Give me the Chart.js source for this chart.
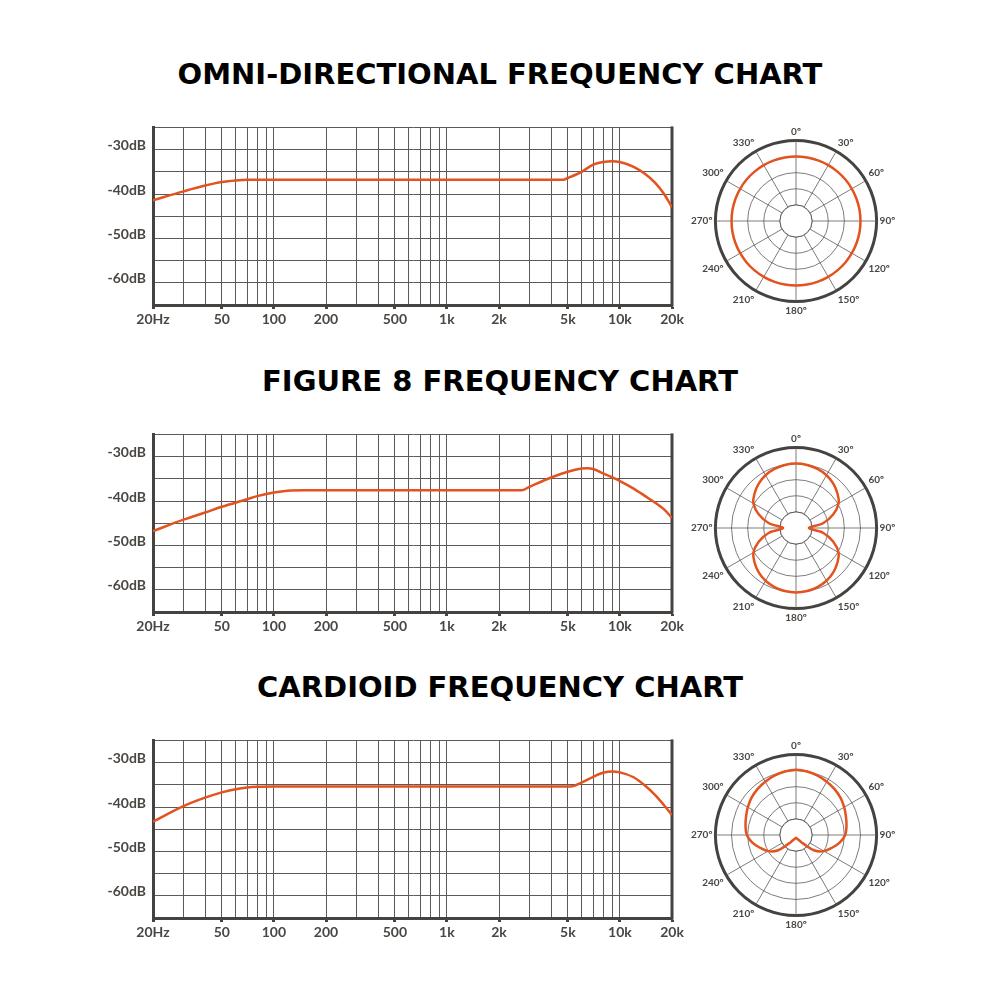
<!DOCTYPE html>
<html>
<head>
<meta charset="utf-8">
<script src="https://cdn.jsdelivr.net/npm/chart.js@4.4.1/dist/chart.umd.min.js"></script>
<style>
  html, body { margin: 0; padding: 0; background: #fff; }
  #page { position: relative; width: 1000px; height: 1000px; overflow: hidden; }
  .title {
    position: absolute; left: 0; width: 1000px; text-align: center;
    font: bold 29px 'DejaVu Sans', sans-serif; line-height: 32px; color: #000;
  }
  .box { position: absolute; }
</style>
</head>
<body>
<div id="page">
  <div class="title" style="top:58px">OMNI-DIRECTIONAL FREQUENCY CHART</div>
  <div class="box" style="left:90px; top:112px; width:610px; height:230px"><canvas id="resp-omni"></canvas></div>
  <div class="box" style="left:689px; top:116px; width:210px; height:210px"><canvas id="polar-omni"></canvas></div>

  <div class="title" style="top:365px">FIGURE 8 FREQUENCY CHART</div>
  <div class="box" style="left:90px; top:419px; width:610px; height:230px"><canvas id="resp-fig8"></canvas></div>
  <div class="box" style="left:689px; top:423px; width:210px; height:210px"><canvas id="polar-fig8"></canvas></div>

  <div class="title" style="top:671px">CARDIOID FREQUENCY CHART</div>
  <div class="box" style="left:90px; top:725px; width:610px; height:230px"><canvas id="resp-card"></canvas></div>
  <div class="box" style="left:689px; top:730px; width:210px; height:210px"><canvas id="polar-card"></canvas></div>
</div>

<script>
// frequency axis
const gridFreqs = [20, 30, 40, 50, 60, 70, 80, 90, 100, 200, 300, 400, 500, 600, 700, 800, 900,
  1000, 2000, 3000, 4000, 5000, 6000, 7000, 8000, 9000, 10000, 20000];
const labelFreqs = [20, 50, 100, 200, 500, 1000, 2000, 5000, 10000, 20000];
const freqTickLabels = ['20Hz', '50', '100', '200', '500', '1k', '2k', '5k', '10k', '20k'];

// level axis
const dbTicks = [-30, -40, -50, -60];
const dbTickLabels = ['-30dB', '-40dB', '-50dB', '-60dB'];

// responses
const omniFreqs = [20, 30, 40, 50, 60, 70, 100, 1000, 4700, 5000, 6000, 7000, 8000, 9000, 10000, 12000, 14000, 16000, 18000, 20000];
const omniDb = [-41.4, -39.4, -38.1, -37.3, -36.95, -36.8, -36.8, -36.8, -36.8, -36.4, -35.0, -33.4, -32.8, -32.6, -32.8, -33.9, -35.5, -37.5, -40.0, -43.0];

const fig8Freqs = [20, 30, 40, 50, 70, 80, 100, 120, 150, 1000, 2700, 3000, 4000, 5000, 6000, 6500, 7000, 8000, 10000, 12000, 14000, 16000, 18000, 20000];
const fig8Db = [-46.8, -44.2, -42.6, -41.3, -39.6, -38.9, -38.1, -37.7, -37.6, -37.6, -37.6, -36.8, -34.7, -33.4, -32.7, -32.6, -32.8, -33.8, -35.5, -37.2, -38.9, -40.4, -41.9, -43.8];

const cardFreqs = [20, 30, 40, 50, 60, 70, 80, 100, 1000, 5200, 6000, 7000, 8000, 9000, 10000, 12000, 14000, 16000, 18000, 20000];
const cardDb = [-43.3, -39.8, -37.9, -36.7, -36.0, -35.6, -35.45, -35.4, -35.4, -35.4, -34.5, -33.2, -32.3, -32.0, -32.2, -33.3, -35.2, -37.3, -39.6, -41.8];

// polar patterns, 10 degree steps, rings 0..5
const polarAngles = [0, 10, 20, 30, 40, 50, 60, 70, 80, 90, 100, 110, 120, 130, 140, 150, 160, 170,
  180, 190, 200, 210, 220, 230, 240, 250, 260, 270, 280, 290, 300, 310, 320, 330, 340, 350];
const compassLabels = ['0º', '30º', '60º', '90º', '120º', '150º', '180º', '210º', '240º', '270º', '300º', '330º'];

const omniPolar = [4, 4, 4, 4, 4, 4, 4, 4, 4, 4, 4, 4, 4, 4, 4, 4, 4, 4,
  4, 4, 4, 4, 4, 4, 4, 4, 4, 4, 4, 4, 4, 4, 4, 4, 4, 4];
const fig8Polar = [4.0, 3.97, 3.9, 3.78, 3.6, 3.35, 3.05, 2.45, 1.7, 0.8, 1.7, 2.45, 3.05, 3.35, 3.6, 3.78, 3.9, 3.97,
  4.0, 3.97, 3.9, 3.78, 3.6, 3.35, 3.05, 2.45, 1.7, 0.8, 1.7, 2.45, 3.05, 3.35, 3.6, 3.78, 3.9, 3.97];
const cardPolar = [4.05, 4.0, 3.92, 3.82, 3.72, 3.6, 3.45, 3.3, 3.18, 3.05, 2.75, 2.35, 2.0, 1.5, 0.7, 0.38, 0.26, 0.2,
  0.17, 0.2, 0.26, 0.38, 0.7, 1.5, 2.0, 2.35, 2.75, 3.05, 3.18, 3.3, 3.45, 3.6, 3.72, 3.82, 3.92, 4.0];

const curveColor = '#e2531f';
const gridColor = '#5c5a58';
const frameColor = '#46423f';
const textColor = '#4a4643';

Chart.defaults.font.family = 'Lato';
Chart.defaults.color = textColor;

// right-hand frame line of the response plots
const framePlugin = {
  id: 'frame',
  beforeDatasetsDraw(chart) {
    const a = chart.chartArea;
    const ctx = chart.ctx;
    ctx.save();
    ctx.strokeStyle = frameColor;
    ctx.lineWidth = 3;
    ctx.beginPath();
    ctx.moveTo(a.right, a.top - 1);
    ctx.lineTo(a.right, a.bottom + 1.5);
    ctx.stroke();
    ctx.restore();
  }
};

// empty hub in the middle of the polar plots
const hubPlugin = {
  id: 'hub',
  beforeDatasetsDraw(chart) {
    const s = chart.scales.r;
    const ctx = chart.ctx;
    ctx.save();
    ctx.beginPath();
    ctx.arc(s.xCenter, s.yCenter, s.getDistanceFromCenterForValue(1), 0, Math.PI * 2);
    ctx.fillStyle = '#fff';
    ctx.fill();
    ctx.lineWidth = 1;
    ctx.strokeStyle = gridColor;
    ctx.stroke();
    ctx.restore();
  }
};

function makeResponseChart(id, freqs, dbs) {
  const ctx = document.getElementById(id).getContext('2d');
  return new Chart(ctx, {
    type: 'line',
    data: {
      datasets: [{
        data: freqs.map((f, i) => ({ x: f, y: dbs[i] })),
        borderColor: curveColor,
        borderWidth: 2.5,
        pointRadius: 0,
        fill: false,
        cubicInterpolationMode: 'monotone'
      }]
    },
    options: {
      responsive: true,
      maintainAspectRatio: false,
      animation: false,
      layout: { padding: { top: 15, right: 28, bottom: 0, left: 0 } },
      plugins: { legend: { display: false }, tooltip: { enabled: false } },
      scales: {
        x: {
          type: 'logarithmic',
          min: 20,
          max: 20000,
          afterBuildTicks: scale => { scale.ticks = gridFreqs.map(v => ({ value: v })); },
          afterFit: scale => { scale.height = 37; },
          ticks: {
            autoSkip: false,
            maxRotation: 0,
            padding: 2,
            font: { size: 14, weight: 'bold' },
            callback: v => {
              const i = labelFreqs.indexOf(v);
              return i >= 0 ? freqTickLabels[i] : '';
            }
          },
          grid: {
            color: gridColor,
            lineWidth: 1,
            tickLength: 4,
            tickWidth: 3,
            tickColor: c => labelFreqs.includes(c.tick.value) ? frameColor : 'transparent'
          },
          border: { display: true, width: 3, color: frameColor }
        },
        y: {
          min: -65,
          max: -25,
          afterFit: scale => { scale.width = 63; },
          ticks: {
            stepSize: 5,
            padding: 7,
            labelOffset: -4,
            font: { size: 14, weight: 'bold' },
            callback: v => {
              const i = dbTicks.indexOf(v);
              return i >= 0 ? dbTickLabels[i] : '';
            }
          },
          grid: { color: gridColor, lineWidth: 1, drawTicks: false },
          border: { display: true, width: 3, color: frameColor }
        }
      }
    },
    plugins: [framePlugin]
  });
}

function makePolarChart(id, values) {
  const ctx = document.getElementById(id).getContext('2d');
  return new Chart(ctx, {
    type: 'radar',
    data: {
      labels: polarAngles.map(a => a % 30 === 0 ? compassLabels[a / 30] : ''),
      datasets: [{
        data: values,
        borderColor: curveColor,
        borderWidth: 2.5,
        pointRadius: 0,
        fill: false,
        tension: 0.4
      }]
    },
    options: {
      responsive: true,
      maintainAspectRatio: false,
      animation: false,
      plugins: { legend: { display: false }, tooltip: { enabled: false } },
      scales: {
        r: {
          min: 0,
          max: 5,
          startAngle: 0,
          ticks: { display: false, stepSize: 1 },
          grid: {
            circular: true,
            color: c => c.tick.value === 5 ? frameColor : gridColor,
            lineWidth: c => c.tick.value === 5 ? 3 : 0.8
          },
          angleLines: {
            color: c => polarAngles[c.index] % 30 === 0 ? gridColor : 'transparent',
            lineWidth: 0.8
          },
          pointLabels: {
            padding: 3,
            color: textColor,
            font: { size: 10, weight: 'bold' }
          }
        }
      }
    },
    plugins: [hubPlugin]
  });
}

makeResponseChart('resp-omni', omniFreqs, omniDb);
makeResponseChart('resp-fig8', fig8Freqs, fig8Db);
makeResponseChart('resp-card', cardFreqs, cardDb);

makePolarChart('polar-omni', omniPolar);
makePolarChart('polar-fig8', fig8Polar);
makePolarChart('polar-card', cardPolar);
</script>
</body>
</html>
